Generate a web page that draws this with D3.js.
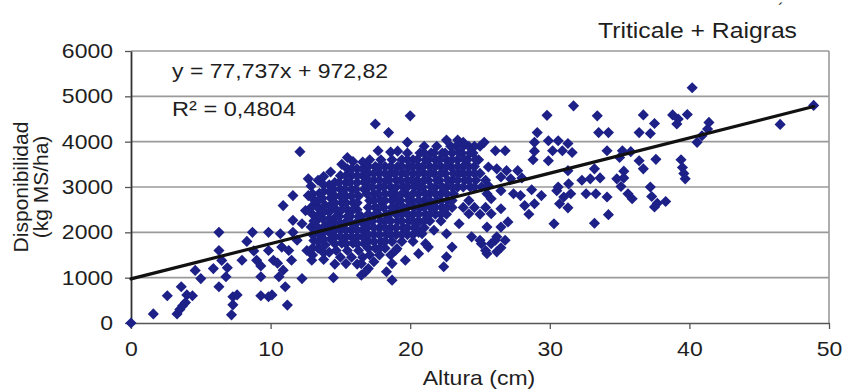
<!DOCTYPE html>
<html>
<head>
<meta charset="utf-8">
<script src="https://cdn.jsdelivr.net/npm/d3@7"></script>
<style>
  body { margin: 0; background: #fff; }
  svg text { font-family: "Liberation Sans", Arial, sans-serif; fill: #1e1e1e; }
  .wide-c { transform-box: fill-box; transform-origin: center; transform: scaleX(1.15); }
  .wide-r { transform-box: fill-box; transform-origin: right center; transform: scaleX(1.15); }
  .wide-l { transform-box: fill-box; transform-origin: left center; transform: scaleX(1.15); }
</style>
</head>
<body>
<svg id="chart" width="843" height="391"></svg>
<script>
// Altura (cm) vs Disponibilidad (kg MS/ha) — Triticale + Raigrás
const xTicks = [0, 10, 20, 30, 40, 50];
const yTicks = [0, 1000, 2000, 3000, 4000, 5000, 6000];

// regression fitted to the whole cloud
const pendiente = 77.737;
const intercepto = 972.82;
const r2 = 0.4804;

// low heights (0–13 cm)
const grupoInicial = [
  [0,0],[1.6,200],[2.6,600],[3.3,200],[3.5,300],[3.7,380],[3.6,800],[3.9,450],[4.0,620],[4.4,600],
  [4.6,1160],[5.0,980],[5.9,1200],[6.3,2000],[6.3,1600],[6.5,1380],[6.3,800],[6.8,1020],[6.9,1220],
  [7.3,580],[7.3,400],[7.2,180],[7.6,620],[7.95,1385],[8.3,1800],[8.7,2000],[8.8,1590],[9.0,1385],
  [9.3,1260],[9.3,1020],[9.3,600],[9.85,2000],[9.85,1600],[9.85,580],[10.1,620],[10.2,1385],
  [10.7,1970],[10.8,1675],[10.6,1020],[10.9,1165],[11.2,395],[11.05,800],[11.3,1600],[11.5,1385],
  [11.6,2000],[11.6,2265],[11.9,1825],[12.25,980],[12.25,2190],[12.5,2480],[12.6,1600],[12.95,1385],
  [13.1,1970],[13.3,2265],[13.2,2630],[12.7,2810],[11.6,2810],[10.9,2590],[12.7,3180],[12.1,3780],
  [10.5,1320]
];

// dense core of the cloud (13–25.5 cm)
const nucleo = [
  [13.0,1500],[13.1,1820],[12.9,2120],[13.0,2400],[13.1,2720],[12.9,3020],
  [13.4,1650],[13.5,1960],[13.3,2260],[13.4,2540],[13.5,2860],[13.4,3150],
  [13.8,1400],[13.9,1720],[13.8,2000],[13.7,2310],[13.9,2600],[13.8,2900],[13.8,3230],
  [14.2,1560],[14.3,1850],[14.1,2150],[14.2,2450],[14.3,2760],[14.2,3050],[14.3,3330],
  [14.6,1300],[14.7,1600],[14.6,1900],[14.5,2200],[14.7,2500],[14.6,2800],[14.6,3100],
  [15.0,1450],[15.1,1760],[15.0,2050],[14.9,2350],[15.1,2650],[15.0,2950],[15.0,3250],[15.1,3500],
  [15.4,1310],[15.5,1600],[15.4,1900],[15.3,2200],[15.5,2500],[15.4,2800],[15.4,3100],[15.5,3400],
  [15.8,1450],[15.9,1760],[15.8,2050],[15.7,2350],[15.9,2650],[15.8,2950],[15.8,3250],[15.9,3560],
  [16.2,1300],[16.3,1600],[16.2,1900],[16.1,2200],[16.2,2500],[16.3,2800],[16.2,3100],[16.2,3400],
  [16.6,1450],[16.7,1750],[16.6,2050],[16.5,2350],[16.7,2950],[16.6,3250],[16.6,3550],
  [17.0,1200],[17.1,1500],[17.0,1800],[16.9,2100],[17.0,2400],[17.1,2700],[17.0,3000],[17.0,3300],[17.1,3600],
  [17.4,1350],[17.5,1650],[17.4,1950],[17.3,2250],[17.5,2550],[17.4,2850],[17.4,3150],[17.5,3450],
  [17.8,1500],[17.9,1800],[17.8,2100],[17.7,2400],[17.9,2700],[17.8,3000],[17.8,3300],[17.9,3600],
  [18.2,1650],[18.3,1950],[18.2,2250],[18.1,2550],[18.2,2850],[18.3,3150],[18.2,3450],
  [18.6,1500],[18.7,1800],[18.6,2100],[18.5,2400],[18.7,2700],[18.6,3000],[18.6,3300],[18.7,3600],
  [19.0,1950],[19.1,2250],[19.0,2550],[18.9,2850],[19.0,3150],[19.1,3450],
  [19.4,1800],[19.5,2100],[19.4,2400],[19.3,2700],[19.5,3000],[19.4,3300],[19.4,3600],
  [19.8,1950],[19.9,2250],[19.8,2550],[19.7,2850],[19.8,3150],[19.9,3450],[19.8,3750],
  [20.2,1800],[20.3,2100],[20.2,2400],[20.1,2700],[20.3,3000],[20.2,3300],[20.2,3600],
  [20.6,2250],[20.7,2550],[20.6,2850],[20.5,3150],[20.6,3450],[20.7,3750],
  [21.0,2100],[21.1,2400],[21.0,2700],[20.9,3000],[21.0,3300],[21.1,3600],[21.0,3900],
  [21.4,2250],[21.5,2550],[21.4,2850],[21.3,3150],[21.4,3450],[21.5,3750],
  [21.8,2400],[21.9,2700],[21.8,3000],[21.7,3300],[21.8,3600],[21.9,3900],
  [22.2,2250],[22.3,2550],[22.2,2850],[22.1,3150],[22.2,3450],[22.3,3750],
  [22.6,2400],[22.7,2700],[22.6,3000],[22.5,3300],[22.6,3600],
  [23.0,2550],[23.1,2850],[23.0,3150],[22.9,3450],[23.0,3750],
  [23.4,3000],[23.5,3300],[23.4,3600],[23.3,3900],
  [23.8,2550],[23.9,3150],[23.8,3450],[23.7,3750],
  [24.2,2700],[24.3,3000],[24.2,3300],[24.1,3600],[24.2,3900],
  [24.6,2550],[24.7,3150],[24.6,3450],[24.5,3750],
  [25.0,2400],[25.1,3000],[25.0,3300],[24.9,3600],[25.0,3900],
  [25.4,2550],[25.5,2850],[25.4,3150]
];

// inner points filling the middle of the core
const nucleoInterior = [
  [13.0,1650],[13.0,1950],[13.1,2250],[12.9,2550],[13.0,2850],
  [13.4,1800],[13.4,2100],[13.5,2400],[13.4,2700],
  [13.8,1550],[13.8,1850],[13.9,2150],[13.8,2450],[13.7,2750],[13.8,3050],
  [14.2,2000],[14.2,2300],[14.3,2600],[14.2,2900],
  [14.6,1750],[14.6,2050],[14.7,2350],[14.6,2650],[14.5,2950],
  [15.0,1900],[15.0,2200],[15.1,2500],[15.0,2800],[14.9,3100],
  [15.4,1750],[15.4,2050],[15.5,2350],[15.4,2650],[15.3,2950],[15.4,3250],
  [15.8,1900],[15.8,2200],[15.9,2500],[15.8,2800],[15.7,3100],[15.8,3400],
  [16.2,1750],[16.2,2050],[16.3,2350],[16.2,2650],[16.1,2950],[16.2,3250],
  [16.6,1900],[16.6,2200],[16.7,3100],[16.6,3400],
  [17.0,1650],[17.0,1950],[17.1,2250],[17.0,2550],[16.9,2850],[17.0,3150],[17.0,3450],
  [17.4,1800],[17.4,2100],[17.5,2400],[17.4,2700],[17.3,3000],[17.4,3300],
  [17.8,1650],[17.8,1950],[17.9,2250],[17.8,2550],[17.7,2850],[17.8,3150],[17.8,3450],
  [18.2,1800],[18.2,2100],[18.3,2400],[18.2,2700],[18.1,3000],[18.2,3300],
  [18.6,1950],[18.6,2250],[18.7,2550],[18.6,2850],[18.5,3150],[18.6,3450],
  [19.0,2100],[19.0,2400],[19.1,2700],[19.0,3000],[18.9,3300],
  [19.4,1950],[19.4,2250],[19.5,2550],[19.4,2850],[19.3,3150],[19.4,3450],
  [19.8,2100],[19.8,2400],[19.9,2700],[19.8,3000],[19.7,3300],[19.8,3600],
  [20.2,1950],[20.2,2250],[20.3,2550],[20.2,2850],[20.1,3150],[20.2,3450],
  [20.6,2400],[20.6,2700],[20.7,3000],[20.6,3300],[20.5,3600],
  [21.0,2250],[21.0,2550],[21.1,2850],[21.0,3150],[20.9,3450],[21.0,3750],
  [21.4,2400],[21.4,2700],[21.5,3000],[21.4,3300],[21.3,3600],
  [21.8,2550],[21.8,2850],[21.9,3150],[21.8,3450],[21.7,3750],
  [22.2,2400],[22.2,2700],[22.3,3000],[22.2,3300],[22.1,3600],
  [22.6,2550],[22.6,2850],[22.7,3150],[22.6,3450],[22.5,3750],
  [23.0,2700],[23.0,3000],[23.1,3300],[23.0,3600],[22.9,3900],
  [23.4,3150],[23.4,3450],[23.5,3750],
  [23.8,3000],[23.8,3300],[23.9,3600],[23.8,3900],
  [24.2,3150],[24.2,3450],[24.3,3750],
  [24.6,3000],[24.6,3300],[24.7,3600],[24.6,3900]
];

// scattered points around the core
const alrededor = [
  [14.5,1000],[16.5,1055],[16.5,1310],[16.8,1130],[18.3,1130],[18.7,1310],[18.7,945],[19.05,1640],
  [19.65,1385],[18.95,1600],[20.6,1530],[21.1,1750],[20.6,2000],[20.5,2190],[20.85,1970],[21.7,2045],
  [21.3,1675],[15.5,3650],[17.5,4390],[18.45,4200],[17.7,3800],[18.6,3770],[20.0,4570],[19.8,3985],
  [19.1,3790],[22.6,4035],[23.4,4035],[23.8,3985],[25.3,3985],[26.1,3800],[26.8,3800],
  [24.2,2410],[23.5,2190],[22.6,1970],[23.0,1675],[22.6,1460],[22.4,1240],[24.4,1900],[25.1,1750],
  [25.5,1530],[26.2,1900],[25.0,1825],[26.1,1825]
];

// taller swards (25–49 cm)
const grupoAlto = [
  [31.7,4790],[29.8,4580],[33.4,4570],[36.7,4590],[38.8,4590],[37.5,4400],[29.1,4200],[33.5,4200],
  [34.2,4200],[36.4,4200],[37.2,4180],[28.9,3985],[29.9,4020],[30.6,4020],[31.3,3960],
  [28.9,3790],[30.2,3800],[30.9,3800],[31.6,3760],[34.1,3800],[35.2,3800],[35.8,3780],
  [28.8,3600],[29.9,3580],[35.0,3650],[36.4,3580],[37.6,3610],[36.7,3400],[35.3,3350],[35.3,3200],
  [33.2,3400],[26.2,3400],[26.9,3360],[27.7,3360],[25.6,3440],[26.5,3220],[27.2,3180],[28.0,3200],
  [31.3,3360],[32.3,3150],[32.9,3180],[33.6,3200],[31.35,3070],[30.6,3000],[25.6,3030],[26.5,2920],
  [27.4,2850],[27.9,2810],[28.7,2940],[29.4,2810],[30.5,2920],[31.0,2780],[31.5,2850],[32.6,2850],
  [33.3,2850],[34.1,2780],[34.8,3180],[35.1,3010],[35.6,2850],[35.9,2740],[37.2,3000],[37.3,2790],
  [37.7,2640],[38.3,2680],[37.5,2560],[28.2,2590],[28.9,2630],[28.5,2400],[30.7,2630],[31.3,2540],
  [34.2,2390],[30.3,2190],[33.2,2200],[25.8,2740],[26.5,2520],[25.8,2410],[27.0,2230],[26.5,2115],
  [25.5,2115],[26.8,1825],[25.8,1750],[26.5,1660],[26.2,1570],[25.4,1600],
  [40.2,5190],[48.9,4800],[46.5,4380],[39.1,4390],[39.85,4600],[39.2,4500],[41.4,4425],[41.3,4280],
  [40.9,4130],[40.55,3985],[39.4,3600],[39.5,3430],[39.6,3300],[39.7,3180]
];

const puntos = [...grupoInicial, ...nucleo, ...nucleoInterior, ...alrededor, ...grupoAlto];

const svg = d3.select("#chart");
const plotLeft = 131, plotRight = 829, plotTop = 51, plotBottom = 323;

const x = d3.scaleLinear().domain([0, 50]).range([plotLeft, plotRight]);
const y = d3.scaleLinear().domain([0, 6000]).range([plotBottom, plotTop]);

// gridlines
svg.append("g").selectAll("line")
  .data(yTicks.filter(d => d > 0))
  .join("line")
  .attr("x1", plotLeft).attr("x2", plotRight)
  .attr("y1", d => y(d)).attr("y2", d => y(d))
  .attr("stroke", "#9a9a9a").attr("stroke-width", 1.6);

// right frame
svg.append("line")
  .attr("x1", plotRight).attr("x2", plotRight).attr("y1", plotTop).attr("y2", plotBottom)
  .attr("stroke", "#9a9a9a").attr("stroke-width", 1.6);

// axes
const gx = svg.append("g")
  .attr("transform", `translate(0,${plotBottom})`)
  .call(d3.axisBottom(x).tickValues(xTicks).tickSize(6).tickSizeOuter(0).tickPadding(13));
gx.select(".domain").attr("stroke", "#555").attr("stroke-width", 1.6);
gx.selectAll(".tick line").attr("stroke", "#555").attr("stroke-width", 1.3);
gx.selectAll(".tick text").attr("class", "wide-c").style("font-size", "20px");

const gy = svg.append("g")
  .attr("transform", `translate(${plotLeft},0)`)
  .call(d3.axisLeft(y).tickValues(yTicks).tickSize(6).tickSizeOuter(0).tickPadding(12)
    .tickFormat(d3.format("d")));
gy.select(".domain").attr("stroke", "#333").attr("stroke-width", 1.8);
gy.selectAll(".tick line").attr("stroke", "#555").attr("stroke-width", 1.3);
gy.selectAll(".tick text").attr("class", "wide-r").style("font-size", "20px");

// points
const diamond = d3.symbol().type(d3.symbolSquare).size(62)();
svg.append("g").selectAll("path")
  .data(puntos)
  .join("path")
  .attr("d", diamond)
  .attr("transform", d => `translate(${x(d[0])},${y(d[1])}) rotate(45)`)
  .attr("fill", "#1c2087");

// trend line
const xMax = d3.max(puntos, d => d[0]);
svg.append("line")
  .attr("x1", x(0)).attr("y1", y(intercepto))
  .attr("x2", x(xMax)).attr("y2", y(pendiente * xMax + intercepto))
  .attr("stroke", "#111").attr("stroke-width", 3.2).attr("stroke-linecap", "round");

// equation and R²
const coma = v => String(v).replace(".", ",");
svg.append("text").attr("class", "wide-l")
  .attr("x", 172).attr("y", 78).style("font-size", "20px")
  .text(`y = ${coma(pendiente)}x + ${coma(intercepto)}`);
svg.append("text").attr("class", "wide-l")
  .attr("x", 172).attr("y", 116).style("font-size", "20.5px")
  .text(`R² = ${coma(r2)}`);

// title, with the acute accent set high above the final "a"
svg.append("text").attr("class", "wide-r")
  .attr("x", 797).attr("y", 38).attr("text-anchor", "end").style("font-size", "21.5px")
  .text("Triticale + Raigras");
svg.append("text")
  .attr("x", 781).attr("y", 14.5).attr("text-anchor", "middle").style("font-size", "16px")
  .text("´");

// axis titles
svg.append("text").attr("class", "wide-c")
  .attr("x", 479).attr("y", 385).attr("text-anchor", "middle").style("font-size", "20px")
  .text("Altura (cm)");
svg.append("text")
  .attr("transform", "translate(28,187) rotate(-90)")
  .attr("text-anchor", "middle").style("font-size", "21px")
  .text("Disponibilidad");
svg.append("text")
  .attr("transform", "translate(48,187) rotate(-90)")
  .attr("text-anchor", "middle").style("font-size", "21px")
  .text("(kg MS/ha)");
</script>
</body>
</html>
